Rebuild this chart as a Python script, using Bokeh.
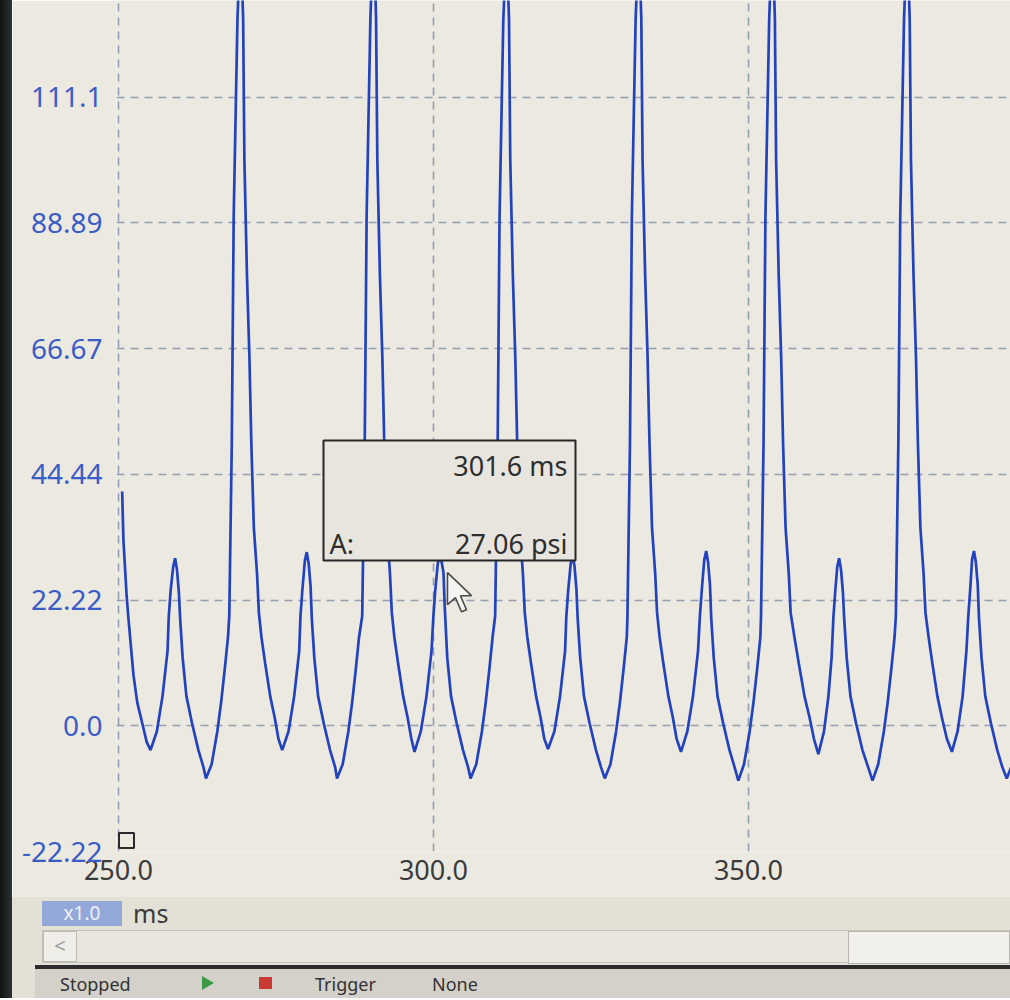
from bokeh.plotting import figure
from bokeh.models import Range1d, FixedTicker, BoxAnnotation, Label, Div
from bokeh.layouts import column, row
from bokeh.embed import file_html
from bokeh.resources import INLINE

# ---------------- data (time in ms, pressure in psi) ----------------
start_t = [250.6, 250.8, 251.3, 251.6, 252.0, 252.4, 253.0, 253.8, 254.5]
start_p = [41.4, 32.8, 23.1, 18.9, 13.9, 8.9, 4.1, 0.4, -2.9]

c0_t = [255.1, 256.1, 257.0, 257.8, 258.0, 258.3, 258.7, 259.0, 259.3, 259.6, 259.8, 260.2, 260.8, 261.7,
        262.7, 263.5, 263.9, 264.8, 265.7, 266.3, 266.9, 267.4, 267.6, 268.0, 268.3, 268.9, 269.4, 269.8,
        270.0, 270.4, 270.8, 271.1, 271.5, 272.0, 272.3, 272.7, 273.3, 274.1, 274.8, 275.4]
c0_p = [-4.3, -1.0, 5.2, 13.2, 19.4, 24.0, 28.1, 29.6, 27.6, 23.6, 19.0, 12.0, 5.2, 0.4,
        -4.3, -7.3, -9.3, -6.8, -1.0, 4.1, 10.2, 15.7, 19.4, 50.0, 90.0, 125.0, 139.0, 125.0,
        100.0, 80.0, 65.0, 50.0, 35.0, 27.0, 20.0, 15.7, 11.0, 5.2, 1.5, -2.3]

c1_t = [276.0, 277.0, 277.9, 278.7, 278.9, 279.2, 279.6, 279.9, 280.2, 280.5, 280.7, 281.1, 281.7, 282.6,
        283.6, 284.4, 284.7, 285.6, 286.5, 287.1, 287.7, 288.2, 288.7, 289.1, 289.4, 290.0, 290.5, 290.9,
        291.1, 291.5, 291.9, 292.2, 292.6, 293.1, 293.4, 293.8, 294.4, 295.2, 295.9, 296.5]
c1_p = [-4.3, -1.0, 5.2, 13.2, 19.4, 24.0, 29.2, 30.7, 28.7, 24.7, 19.0, 12.0, 5.2, 0.4,
        -4.3, -7.3, -9.3, -6.8, -1.0, 4.1, 10.2, 15.7, 19.4, 50.0, 90.0, 125.0, 141.0, 125.0,
        100.0, 80.0, 65.0, 50.0, 35.0, 27.0, 20.0, 15.7, 11.0, 5.2, 1.5, -2.3]

c2_t = [297.0, 298.0, 298.9, 299.7, 300.0, 300.3, 300.7, 301.0, 301.3, 301.6, 301.8, 302.2, 302.8, 303.7,
        304.7, 305.5, 305.9, 306.8, 307.7, 308.3, 308.9, 309.4, 309.8, 310.2, 310.5, 311.1, 311.6, 312.0,
        312.2, 312.6, 313.0, 313.3, 313.7, 314.2, 314.5, 314.9, 315.5, 316.3, 317.0, 317.6]
c2_p = [-4.6, -1.0, 5.2, 13.2, 19.4, 24.0, 28.7, 30.2, 29.0, 27.06, 21.0, 12.0, 5.2, 0.4,
        -4.3, -7.3, -9.3, -6.8, -1.0, 4.1, 10.2, 15.7, 19.4, 50.0, 90.0, 125.0, 138.0, 125.0,
        100.0, 80.0, 65.0, 50.0, 35.0, 27.0, 20.0, 15.7, 11.0, 5.2, 1.5, -2.3]

c3_t = [318.2, 319.2, 320.1, 320.9, 321.1, 321.4, 321.8, 322.1, 322.4, 322.7, 322.9, 323.3, 323.9, 324.8,
        325.8, 326.6, 327.2, 328.1, 329.0, 329.6, 330.2, 330.7, 330.8, 331.2, 331.5, 332.1, 332.6, 333.0,
        333.2, 333.6, 334.0, 334.3, 334.7, 335.2, 335.5, 335.9, 336.5, 337.3, 338.0, 338.6]
c3_p = [-4.1, -1.0, 5.2, 13.2, 19.4, 24.0, 28.7, 30.2, 28.2, 24.2, 19.0, 12.0, 5.2, 0.4,
        -4.3, -7.3, -9.3, -6.8, -1.0, 4.1, 10.2, 15.7, 19.4, 50.0, 90.0, 125.0, 139.0, 125.0,
        100.0, 80.0, 65.0, 50.0, 35.0, 27.0, 20.0, 15.7, 11.0, 5.2, 1.5, -2.3]

c4_t = [339.3, 340.3, 341.2, 342.0, 342.3, 342.6, 343.0, 343.3, 343.6, 343.9, 344.1, 344.5, 345.1, 346.0,
        347.0, 347.8, 348.4, 349.3, 350.2, 350.8, 351.4, 351.9, 352.0, 352.4, 352.7, 353.3, 353.8, 354.2,
        354.4, 354.8, 355.2, 355.5, 355.9, 356.4, 356.7, 357.3, 358.0, 358.9, 359.7, 360.4]
c4_p = [-4.6, -1.0, 5.2, 13.2, 19.4, 24.0, 29.4, 30.9, 28.9, 24.9, 19.0, 12.0, 5.2, 0.4,
        -4.3, -7.3, -9.7, -6.8, -1.0, 4.1, 10.2, 15.7, 19.4, 50.0, 90.0, 125.0, 140.0, 125.0,
        100.0, 80.0, 65.0, 50.0, 35.0, 27.0, 20.0, 15.7, 11.0, 5.2, 1.5, -2.3]

c5_t = [361.1, 362.0, 362.7, 363.2, 363.5, 363.8, 364.1, 364.4, 364.7, 365.0, 365.2, 365.6, 366.2, 367.1,
        368.1, 369.0, 369.7, 370.6, 371.5, 372.1, 372.7, 373.2, 373.4, 373.8, 374.1, 374.7, 375.2, 375.6,
        375.8, 376.2, 376.6, 376.9, 377.3, 377.8, 378.1, 378.6, 379.2, 380.0, 380.7, 381.5]
c5_p = [-5.0, -1.0, 5.2, 12.0, 19.4, 24.0, 28.1, 29.6, 27.6, 23.6, 19.0, 12.0, 5.2, 0.4,
        -4.3, -7.3, -9.7, -6.8, -1.0, 4.1, 10.2, 15.7, 19.4, 50.0, 90.0, 125.0, 139.0, 125.0,
        100.0, 80.0, 65.0, 50.0, 35.0, 27.0, 20.0, 15.7, 11.0, 5.2, 1.5, -2.3]

c6_t = [382.3, 383.2, 384.0, 384.6, 384.9, 385.2, 385.5, 385.8, 386.1, 386.4, 386.6, 387.0, 387.6, 388.5,
        389.5, 390.3, 391.0, 391.9, 392.8, 393.4]
c6_p = [-4.6, -1.0, 5.2, 13.2, 19.4, 24.0, 29.4, 30.9, 28.9, 24.9, 19.0, 12.0, 5.2, 0.4,
        -4.3, -7.3, -9.3, -6.8, -1.0, 4.1]

y_ticks = [-22.22, 0.0, 22.22, 44.44, 66.67, 88.89, 111.1]
y_tick_labels = ["-22.22", "0.0", "22.22", "44.44", "66.67", "88.89", "111.1"]
x_ticks = [250.0, 300.0, 350.0]
x_tick_labels = ["250.0", "300.0", "350.0"]
x_view = (249.7, 391.6)
y_view = (-22.22, 128.2)

cursor_ms = 301.6
cursor_psi = 27.06
channel = "A"
time_unit = "ms"
pressure_unit = "psi"
zoom_text = "x1.0"
status_texts = ["Stopped", "Trigger", "None"]

time_ms = start_t + c0_t + c1_t + c2_t + c3_t + c4_t + c5_t + c6_t
pressure_psi = start_p + c0_p + c1_p + c2_p + c3_p + c4_p + c5_p + c6_p

# ---------------- layout / style ----------------
BG = "#ece9e1"
BEZEL = 12
W = 998
LEFT = 104
FRAME_H = 851
BOTTOM = 46
FRAME_W = W - LEFT
FRAME_LEFT_PX = BEZEL + LEFT
FRAME_TOP_PX = 0
ppm = FRAME_W / (x_view[1] - x_view[0])
ppu = FRAME_H / (y_view[1] - y_view[0])


def px_to_ms(px):
    return x_view[0] + (px - FRAME_LEFT_PX) / ppm


def py_to_psi(py):
    return y_view[1] - (py - FRAME_TOP_PX) / ppu


p = figure(width=W, height=FRAME_H + BOTTOM, title=None,
           x_range=Range1d(*x_view), y_range=Range1d(*y_view),
           toolbar_location=None, output_backend="svg",
           min_border_left=LEFT, min_border_right=0, min_border_top=0, min_border_bottom=BOTTOM)
p.background_fill_color = BG
p.border_fill_color = BG
p.outline_line_color = None

p.xaxis.ticker = FixedTicker(ticks=x_ticks)
p.yaxis.ticker = FixedTicker(ticks=y_ticks)
p.xgrid.ticker = FixedTicker(ticks=x_ticks)
p.ygrid.ticker = FixedTicker(ticks=y_ticks)
p.xaxis.major_label_overrides = dict(zip(x_ticks, x_tick_labels))
p.yaxis.major_label_overrides = dict(zip(y_ticks, y_tick_labels))
for ax in (p.xaxis, p.yaxis):
    ax.axis_line_color = None
    ax.major_tick_line_color = None
    ax.minor_tick_line_color = None
    ax.major_label_text_font = "Noto Sans"
p.yaxis.major_label_text_font_size = "28px"
p.yaxis.major_label_text_color = "#3a5cc6"
p.yaxis.major_label_standoff = 8
p.xaxis.major_label_text_font_size = "27px"
p.xaxis.major_label_text_color = "#3b3b3b"
p.xaxis.major_label_standoff = 2

for g in (p.xgrid, p.ygrid):
    g.grid_line_color = "#8592a8"
    g.grid_line_dash = "8 6"
    g.grid_line_width = 1.6
    g.grid_line_alpha = 0.85

p.line(time_ms, pressure_psi, line_color="#2343be", line_width=2.7)

# ruler handle at bottom-left corner
p.scatter([px_to_ms(126)], [py_to_psi(840)], marker="square", size=15,
          fill_color=None, line_color="#2a2a2a", line_width=2)

# mouse pointer at the cursor point
arrow_dx = [0, 0, 8, 14, 19, 13, 24]
arrow_dy = [0, 32, 25, 39, 37, 23, 23]
tip_x = cursor_ms + 4 / ppm
tip_y = cursor_psi
p.patch([tip_x + d / ppm for d in arrow_dx], [tip_y - d / ppu for d in arrow_dy],
        fill_color="#f4f4f2", line_color="#4a4a4a", line_width=1.6)

# tooltip box
box = BoxAnnotation(left=px_to_ms(323), right=px_to_ms(575), top=py_to_psi(440), bottom=py_to_psi(560),
                    fill_color="#e7e5de", fill_alpha=1.0, line_color="#262626", line_alpha=1.0,
                    line_width=2)
p.add_layout(box)
tip_font = dict(text_font="Noto Sans", text_font_size="27px", text_color="#2e2e2e", text_baseline="middle")
p.add_layout(Label(x=px_to_ms(567), y=py_to_psi(465), text=f"{cursor_ms:.1f} {time_unit}",
                   text_align="right", **tip_font))
p.add_layout(Label(x=px_to_ms(329), y=py_to_psi(543), text=f"{channel}:",
                   text_align="left", **tip_font))
p.add_layout(Label(x=px_to_ms(567), y=py_to_psi(543), text=f"{cursor_psi:.2f} {pressure_unit}",
                   text_align="right", **tip_font))

# ---------------- bottom strip (zoom box, unit, scrollbar, status bar) ----------------
SH = 101
status_html = "".join(
    f'<div style="position:absolute;left:{x}px;top:76px;font-size:18px;line-height:22px;color:#333;">{t}</div>'
    for x, t in zip([48, 303, 420], status_texts))
bottom_html = f"""
<div style="position:relative;width:{W}px;height:{SH}px;background:#e3e0d6;overflow:hidden;
            font-family:'Noto Sans',sans-serif;">
  <div style="position:absolute;left:30px;top:4px;width:80px;height:25px;background:#93a8d8;
              color:#eef2fb;font-size:19px;line-height:25px;text-align:center;">{zoom_text}</div>
  <div style="position:absolute;left:121px;top:1px;font-size:25px;line-height:30px;color:#3a3a3a;">{time_unit}</div>
  <div style="position:absolute;left:30px;top:33px;width:{W - 30}px;height:33px;background:#e8e6df;
              border:1px solid #c4c2ba;box-sizing:border-box;"></div>
  <div style="position:absolute;left:31px;top:34px;width:34px;height:31px;background:#efeee9;
              border:1px solid #bdbbb3;box-sizing:border-box;color:#9a9a9a;font-size:20px;
              line-height:28px;text-align:center;">&lt;</div>
  <div style="position:absolute;left:836px;top:34px;width:{W - 836}px;height:33px;background:#f1f0ec;
              border:1px solid #b8b6ae;box-sizing:border-box;"></div>
  <div style="position:absolute;left:23px;top:68px;width:{W - 23}px;height:4px;background:#2c2c2c;"></div>
  <div style="position:absolute;left:23px;top:72px;width:{W - 23}px;height:{SH - 72}px;background:#d3d1c9;"></div>
  {status_html}
  <div style="position:absolute;left:190px;top:79px;width:0;height:0;border-top:7px solid transparent;
              border-bottom:7px solid transparent;border-left:12px solid #3a9a4a;"></div>
  <div style="position:absolute;left:247px;top:80px;width:13px;height:12px;background:#c83a32;"></div>
</div>
"""
bottom = Div(text=bottom_html, width=W, height=SH, margin=(0, 0, 0, 0))

bezel = Div(text=f'<div style="width:{BEZEL}px;height:{FRAME_H + BOTTOM + SH}px;'
                 f'background:linear-gradient(to right,#0f1313,#2b3333);"></div>',
            width=BEZEL, height=FRAME_H + BOTTOM + SH, margin=(0, 0, 0, 0))

layout = row(bezel, column(p, bottom, spacing=0), spacing=0)
open("out.html", "w").write(file_html(layout, INLINE))
